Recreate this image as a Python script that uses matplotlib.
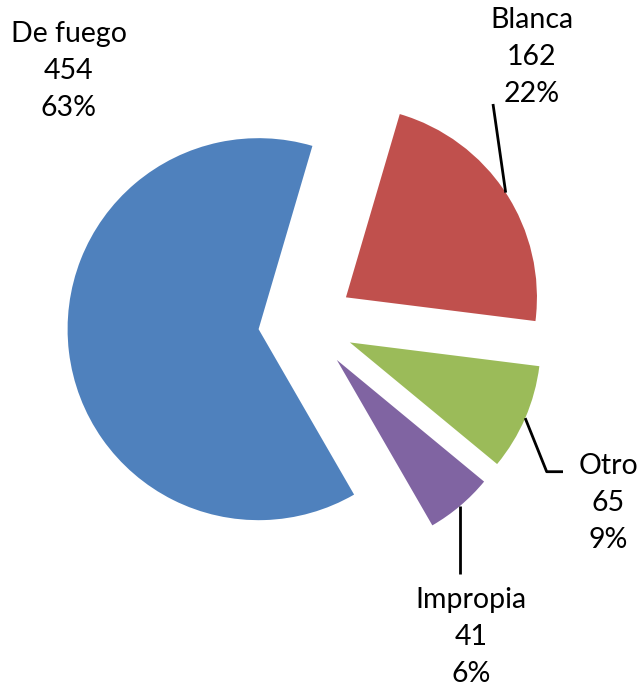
import numpy as np
import matplotlib
matplotlib.use("Agg")
import matplotlib.pyplot as plt

categories = ["De fuego", "Blanca", "Otro", "Impropia"]
values = [454, 162, 65, 41]
percents = ["63%", "22%", "9%", "6%"]
colors = ["#4F81BD", "#C0504D", "#9BBB59", "#8064A2"]

W, H = 642, 689
fig = plt.figure(figsize=(W / 100, H / 100), dpi=100)
ax = fig.add_axes([0, 0, 1, 1])

R = 191
EXPLODE = 0.25 * R  # explode is in data units
cx, cy = 306, H - 323.5
wedges, _ = ax.pie(values, colors=colors, startangle=-60, counterclock=False,
                   radius=R, center=(cx, cy), explode=[EXPLODE] * 4,
                   wedgeprops=dict(linewidth=0))
ax.set_xlim(0, W)
ax.set_ylim(0, H)
ax.set_aspect("auto")
ax.axis("off")

font = dict(family=["Lato", "DejaVu Sans"], fontsize=20.5, color="black",
            ha="center", va="center", linespacing=1.52)

# label block centres (pixel coords from top-left)
label_pos = [(69, 71), (532, 57), (608, 503), (471, 637)]
for i, (x, y) in enumerate(label_pos):
    ax.text(x, H - y, f"{categories[i]}\n{values[i]}\n{percents[i]}", **font)


def mid_point(w):
    ang = np.deg2rad((w.theta1 + w.theta2) / 2)
    return w.center[0] + w.r * np.cos(ang), w.center[1] + w.r * np.sin(ang)

lk = dict(color="black", lw=2.0, solid_capstyle="butt")
# Blanca leader
bx, by = mid_point(wedges[1])
ax.plot([bx, 493], [by, H - 104], **lk)
# Otro leader
ox, oy = mid_point(wedges[2])
ax.plot([ox, 546.7, 563], [oy, H - 471.7, H - 471.7], **lk)
# Impropia leader
ix, iy = mid_point(wedges[3])
ax.plot([ix, ix], [iy, H - 574], **lk)

fig.savefig("out.png", dpi=100)
